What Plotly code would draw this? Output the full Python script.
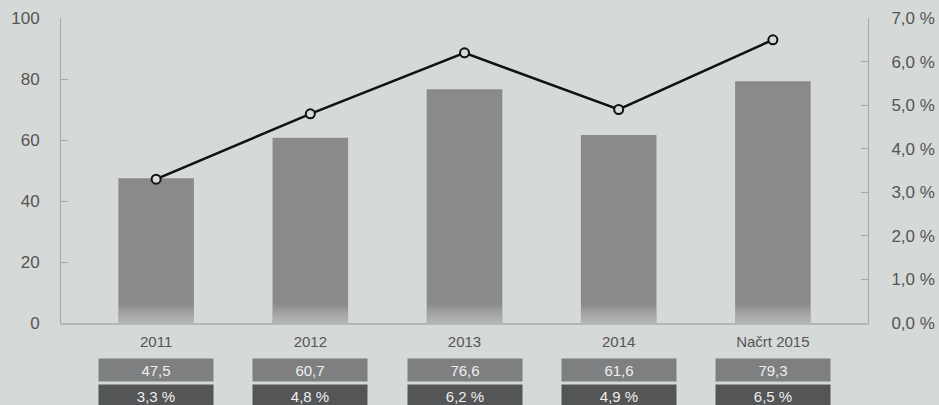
import plotly.graph_objects as go

# --- data -------------------------------------------------------------
categories = ["2011", "2012", "2013", "2014", "Načrt 2015"]
bar_values = [47.5, 60.7, 76.6, 61.6, 79.3]          # left axis
rate_values = [3.3, 4.8, 6.2, 4.9, 6.5]              # right axis, %
left_ticks = [0, 20, 40, 60, 80, 100]
right_ticks = [0, 1, 2, 3, 4, 5, 6, 7]


def fmt(v, suffix=""):
    return f"{v:.1f}".replace(".", ",") + suffix


bar_labels = [fmt(v) for v in bar_values]
rate_labels = [fmt(v, " %") for v in rate_values]
right_tick_labels = [fmt(v, " %") for v in right_ticks]

# --- style ------------------------------------------------------------
BG = "#d5d9d8"
AXIS = "#a3a7a7"
TEXT = "#555555"
FONT = "Helvetica Neue, Liberation Sans, Arial, sans-serif"
BAR_W = 0.49

fig = go.Figure()

fig.add_trace(go.Bar(
    x=categories, y=bar_values, width=BAR_W,
    marker=dict(color="#8a8a8a", line=dict(width=0)),
    hoverinfo="skip", showlegend=False,
))

# soft light fade at the foot of each bar (stacked translucent layers)
for k in range(1, 9):
    frac = 0.0075 * k
    fig.add_trace(go.Bar(
        x=categories, y=[100 * frac] * len(categories), width=BAR_W,
        marker=dict(color="rgba(255,255,255,0.06)", line=dict(width=0)),
        hoverinfo="skip", showlegend=False,
    ))

fig.add_trace(go.Scatter(
    x=categories, y=rate_values, yaxis="y2", mode="lines+markers",
    line=dict(color="#111111", width=2.5),
    marker=dict(symbol="circle", size=9, color=BG,
                line=dict(color="#111111", width=2)),
    hoverinfo="skip", showlegend=False,
))

# value table under the category labels (x given as category index)
for i, (bl, rl) in enumerate(zip(bar_labels, rate_labels)):
    fig.add_annotation(
        x=i, xref="x", y=-0.155, yref="paper", yanchor="middle",
        text=bl, showarrow=False, width=114, height=22, borderpad=0,
        bgcolor="#7e7f81", font=dict(family=FONT, size=15, color="#eeeeee"),
    )
    fig.add_annotation(
        x=i, xref="x", y=-0.24, yref="paper", yanchor="middle",
        text=rl, showarrow=False, width=114, height=22, borderpad=0,
        bgcolor="#545557", font=dict(family=FONT, size=15, color="#eeeeee"),
    )

fig.update_layout(
    width=939, height=405,
    margin=dict(l=61, r=71, t=18, b=82, autoexpand=False),
    paper_bgcolor=BG, plot_bgcolor=BG,
    barmode="overlay",
    font=dict(family=FONT, color=TEXT),
    xaxis=dict(
        type="category", range=[-0.617, 4.617], automargin=False,
        showgrid=False, zeroline=False,
        showline=True, linecolor="#b3b7b7", linewidth=2,
        ticks="", tickfont=dict(size=15, color=TEXT),
        ticklabelstandoff=4,
    ),
    yaxis=dict(
        range=[0, 100], tickvals=left_ticks, automargin=False,
        showgrid=False, zeroline=False,
        showline=True, linecolor=AXIS, linewidth=1,
        ticks="inside", ticklen=7, tickcolor=AXIS,
        tickfont=dict(size=17, color=TEXT), ticklabelstandoff=17,
    ),
    yaxis2=dict(
        range=[0, 7], overlaying="y", side="right", automargin=False,
        tickvals=right_ticks, ticktext=right_tick_labels,
        showgrid=False, zeroline=False,
        showline=True, linecolor=AXIS, linewidth=1,
        ticks="inside", ticklen=7, tickcolor=AXIS,
        tickfont=dict(size=17, color=TEXT), ticklabelstandoff=19,
    ),
)

fig.write_html("out.html")
